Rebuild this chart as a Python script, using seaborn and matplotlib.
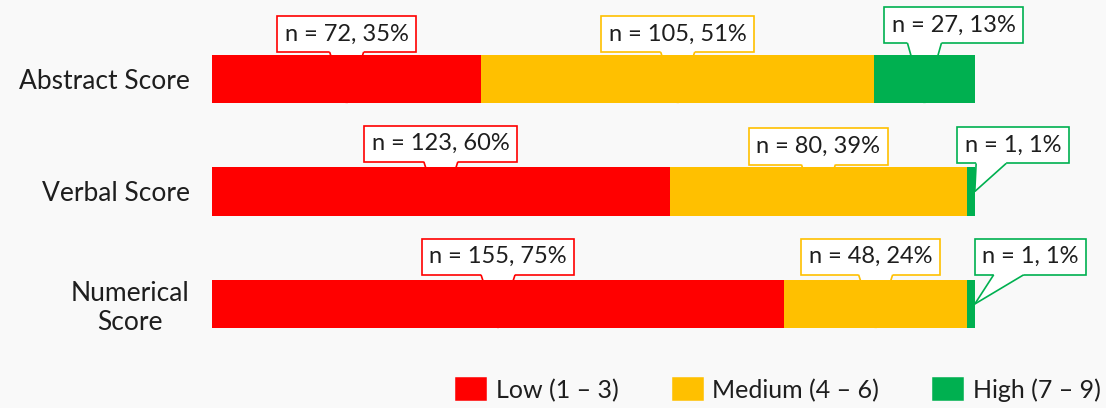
import matplotlib
matplotlib.use("Agg")
import matplotlib.pyplot as plt
import seaborn as sns
import pandas as pd
import numpy as np
from matplotlib.patches import Patch

# ---- data ----
categories = ["Abstract Score", "Verbal Score", "Numerical\nScore"]
series_names = ["Low (1 – 3)", "Medium (4 – 6)", "High (7 – 9)"]
low_pct = [35.3, 60.0, 75.0]
medium_pct = [51.5, 39.0, 24.0]
high_pct = [13.2, 1.0, 1.0]
low_n = [72, 123, 155]
medium_n = [105, 80, 48]
high_n = [27, 1, 1]
low_lbl = [35, 60, 75]
medium_lbl = [51, 39, 24]
high_lbl = [13, 1, 1]

# ---- style ----
colors = ["#FF0000", "#FFC000", "#00B050"]
bg = "#F9F9F9"
txt = "#1E1E1E"
FONT = "Lato"
FS = 17
bar_h = 0.427
label_y = [[-0.40, -0.40, -0.48], [-0.425, -0.40, -0.41], [-0.42, -0.42, -0.42]]
label_dx = [[0, 0, 3.8], [0, 0, 5.5], [0, -0.7, 7.8]]

sns.set_theme(style="white")
plt.rcParams["font.family"] = [FONT, "DejaVu Sans"]

fig = plt.figure(figsize=(11.06, 4.08), dpi=100, facecolor=bg)
ax = fig.add_axes([212 / 1106, 0.0895, 1 - 212 / 1106, 0.9718 - 0.0895])
ax.set_facecolor(bg)

cum_low = low_pct
cum_med = [a + b for a, b in zip(low_pct, medium_pct)]
cum_high = [a + b + c for a, b, c in zip(low_pct, medium_pct, high_pct)]
df = pd.DataFrame({"category": categories, "low": cum_low, "med": cum_med, "high": cum_high})

for col, c in zip(["high", "med", "low"], colors[::-1]):
    sns.barplot(data=df, x=col, y="category", orient="h", color=c, saturation=1,
                width=bar_h, linewidth=0, errorbar=None, ax=ax, zorder=4)

ax.set_xlim(0, 117.2)
ax.set_ylim(2.6, -0.6)
ax.set_xlabel("")
ax.set_ylabel("")
ax.set_xticks([])
for s in ax.spines.values():
    s.set_visible(False)
ax.tick_params(axis="y", length=0, pad=16, labelsize=19, labelcolor=txt)
for t in ax.get_yticklabels():
    t.set_multialignment("center")
    t.set_fontfamily([FONT, "DejaVu Sans"])

# ---- callouts ----
starts = [[0] * 3, cum_low, cum_med]
widths = [low_pct, medium_pct, high_pct]
counts = [low_n, medium_n, high_n]
pcts = [low_lbl, medium_lbl, high_lbl]
anns = []
for j in range(3):
    for i in range(3):
        mid = starts[j][i] + widths[j][i] / 2
        ty = i + label_y[i][j]
        tx = mid + label_dx[i][j]
        thin = widths[j][i] < 3
        tip = (starts[j][i] + widths[j][i], i) if thin else (mid, i + bar_h / 2)
        a = ax.annotate(f"n = {counts[j][i]}, {pcts[j][i]}%", xy=(tx, ty),
                        ha="center", va="center", fontsize=FS, color=txt, zorder=3,
                        bbox=dict(boxstyle="square,pad=0.32", fc="white", ec=colors[j], lw=1.2))
        anns.append((a, tip, thin, colors[j]))

fig.canvas.draw()
renderer = fig.canvas.get_renderer()
inv = ax.transData.inverted()
for a, tip, thin, c in anns:
    bb = a.get_bbox_patch().get_window_extent(renderer)
    tip_d = ax.transData.transform(tip)
    if thin:
        b0, b1 = bb.x0 + 19, bb.x0 + 49
    else:
        b0, b1 = tip_d[0] - 17, tip_d[0] + 17
    yb = bb.y0
    poly = np.array([[b0, yb + 1.5], [b1, yb + 1.5], [b1, yb], tip_d, [b0, yb]])
    pd_ = inv.transform(poly)
    ax.fill(pd_[:, 0], pd_[:, 1], color="white", lw=0, zorder=3.5)
    for bx in (b0, b1):
        seg = inv.transform(np.array([[bx, yb], tip_d]))
        ax.plot(seg[:, 0], seg[:, 1], color=c, lw=1.2, zorder=3.5, solid_capstyle="butt")

# ---- legend ----
handles = [Patch(facecolor=c, edgecolor=c, linewidth=4, joinstyle="round") for c in colors]
fig.legend(handles, series_names, loc="center left", bbox_to_anchor=(458 / 1106, 1 - 390 / 408),
           ncol=3, frameon=False, fontsize=18, borderpad=0, borderaxespad=0,
           handlelength=1.05, handleheight=0.75, handletextpad=0.45, columnspacing=2.25,
           labelcolor=txt)

fig.savefig("out.png", dpi=100, facecolor=bg)
